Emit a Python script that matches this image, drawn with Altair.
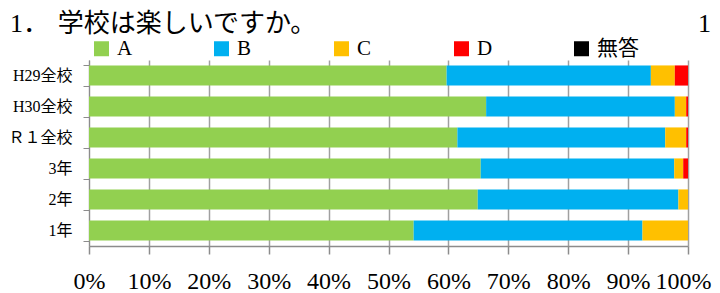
import altair as alt
import pandas as pd

categories = ["H29全校", "H30全校", "Ｒ１全校", "3年", "2年", "1年"]
series = ["A", "B", "C", "D", "無答"]
colors = ["#92D050", "#00B0F0", "#FFC000", "#FF0000", "#000000"]
val_A = [59.7, 66.3, 61.5, 65.4, 64.9, 54.2]
val_B = [34.1, 31.5, 34.7, 32.3, 33.5, 38.2]
val_C = [4.0, 1.9, 3.5, 1.5, 1.6, 7.6]
val_D = [2.2, 0.3, 0.3, 0.8, 0.0, 0.0]
val_NA = [0.0, 0.0, 0.0, 0.0, 0.0, 0.0]
x_ticks = [0, 10, 20, 30, 40, 50, 60, 70, 80, 90, 100]
title_text = "1．\u2004学校は楽しいですか。"

FONT = "Liberation Serif, Noto Sans CJK JP"

rows = []
for si, (s, vals) in enumerate(zip(series, [val_A, val_B, val_C, val_D, val_NA])):
    for c, v in zip(categories, vals):
        rows.append({"cat": c, "series": s, "order": si, "value": v})
df = pd.DataFrame(rows)

bars = alt.Chart(df).mark_bar().encode(
    y=alt.Y("cat:N", sort=categories, title=None,
            scale=alt.Scale(paddingInner=0.35, paddingOuter=0.175),
            axis=alt.Axis(tickBand="extent", tickSize=6, labelPadding=11,
                          labelFontSize=16, labelFont=FONT, labelColor="#000",
                          domainColor="#8c8c8c", tickColor="#8c8c8c",
                          grid=False)),
    x=alt.X("value:Q", stack="zero", title=None,
            scale=alt.Scale(domain=[0, 100], nice=False),
            axis=alt.Axis(values=x_ticks, labelExpr="datum.value + '%'",
                          tickSize=8, labelPadding=15, labelFontSize=24,
                          labelOffset={"condition": {"test": "datum.value === 100", "value": -5},
                                       "value": 0},
                          labelFont=FONT, labelColor="#000",
                          labelOverlap=False, labelBound=False, labelFlush=False,
                          grid=True, gridColor="#a0a0a0", gridWidth=1.5,
                          domainColor="#8c8c8c", tickColor="#8c8c8c", tickWidth=1.5,
                          domainWidth=1.5)),
    color=alt.Color("series:N", scale=alt.Scale(domain=series, range=colors),
                    legend=alt.Legend(title=None, orient="none", legendX=2, legendY=-22,
                                      direction="horizontal", columns=5, gridAlign="all",
                                      columnPadding=52, symbolType="square", symbolSize=225,
                                      symbolStrokeWidth=0, symbolOpacity=1,
                                      labelOffset=5, labelFontSize=21, labelFont=FONT,
                                      labelColor="#000", padding=0)),
    order=alt.Order("order:Q"),
)

title = alt.Chart().mark_text(text=title_text, font=FONT, fontSize=26, align="left",
                              baseline="middle", color="#000").encode(
    x=alt.value(-79), y=alt.value(-36))

next_title = alt.Chart().mark_text(text="1", font=FONT, fontSize=26, align="left",
                                   baseline="middle", color="#000").encode(
    x=alt.value(609), y=alt.value(-36))

chart = alt.layer(bars, title, next_title).properties(
    width=599, height=186,
    autosize=alt.AutoSizeParams(type="none"),
    padding={"left": 81, "top": 52, "right": 24, "bottom": 47},
).configure_view(stroke=None)

chart.save("out.html", embed_options={"renderer": "svg", "actions": False})
